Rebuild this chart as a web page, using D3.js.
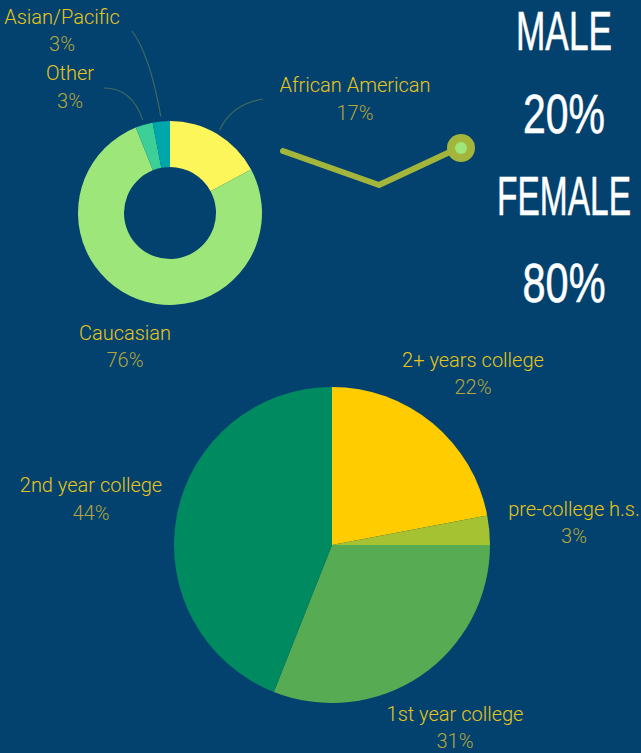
<!DOCTYPE html>
<html><head><meta charset="utf-8">
<script src="https://cdn.jsdelivr.net/npm/d3@7/dist/d3.min.js"></script>
<style>
html,body{margin:0;padding:0;background:#03426f;}
svg{display:block;}
</style></head>
<body>
<svg id="chart" width="641" height="753"></svg>
<script>
// ---- data ----
const ethnicityLabels = ["African American", "Caucasian", "Other", "Asian/Pacific"];
const ethnicityValues = [17, 76, 3, 3];
const ethnicityColors = ["#fdf65a", "#9de77a", "#3ccf98", "#00a7aa"];

const educationLabels = ["2+ years college", "pre-college h.s.", "1st year college", "2nd year college"];
const educationValues = [22, 3, 31, 44];
const educationColors = ["#ffcc00", "#a5c233", "#57ab52", "#008a60"];

const genderLabels = ["MALE", "FEMALE"];
const genderValues = [20, 80];

// ---- layout ----
const W = 641, H = 753;
const svg = d3.select("#chart");
svg.append("rect").attr("width", W).attr("height", H).attr("fill", "#03426f");

const nameColor = "#e8c619", pctColor = "#b5a63c", leaderColor = "#3f6b5e";
const labelFont = "Roboto, 'Liberation Sans', sans-serif";

function label(x, y, name, pct, dy) {
  const g = svg.append("g").attr("font-family", labelFont).attr("font-size", 20).attr("text-anchor", "middle");
  g.append("text").attr("x", x).attr("y", y).attr("fill", nameColor).attr("font-weight", 300).text(name);
  g.append("text").attr("x", x).attr("y", y + dy).attr("fill", pctColor).attr("font-weight", 300).text(pct + "%");
}

// ---- donut (ethnicity) ----
const dc = [170, 213], dR = 92, dr = 46;
const pieE = d3.pie().sort(null).value(d => d)(ethnicityValues);
const arcE = d3.arc().innerRadius(dr).outerRadius(dR);
const gD = svg.append("g").attr("transform", `translate(${dc[0]},${dc[1]})`);
gD.selectAll("path").data(pieE).join("path")
  .attr("d", arcE).attr("fill", (d, i) => ethnicityColors[i]);

const eLabelPos = [[355, 92, 28], [125, 340, 27], [70, 80, 28], [62, 24, 27]];
const eLeaderStart = [[263, 99], null, [104, 88], [132, 31]];
const eLeaderBend = [[232, 104], null, [132, 88], [150, 55]];
ethnicityLabels.forEach((n, i) => {
  label(eLabelPos[i][0], eLabelPos[i][1], n, ethnicityValues[i], eLabelPos[i][2]);
  if (eLeaderStart[i]) {
    const a = (pieE[i].startAngle + pieE[i].endAngle) / 2;
    const r = dR + 5;
    const ex = dc[0] + r * Math.sin(a), ey = dc[1] - r * Math.cos(a);
    const p = d3.path();
    p.moveTo(eLeaderStart[i][0], eLeaderStart[i][1]);
    p.quadraticCurveTo(eLeaderBend[i][0], eLeaderBend[i][1], ex, ey);
    svg.append("path").attr("d", p.toString()).attr("fill", "none")
      .attr("stroke", leaderColor).attr("stroke-width", 1.2);
  }
});

// ---- decoration ----
svg.append("polyline").attr("points", "283,151 379,185 452,151")
  .attr("fill", "none").attr("stroke", "#a3b53a").attr("stroke-width", 6)
  .attr("stroke-linecap", "round").attr("stroke-linejoin", "round");
svg.append("circle").attr("cx", 461).attr("cy", 148).attr("r", 14).attr("fill", "#a3b53a");
svg.append("circle").attr("cx", 461).attr("cy", 148).attr("r", 6).attr("fill", "#9de77a");

// ---- gender text (condensed by horizontal scaling) ----
const gFont = "'Liberation Sans Narrow', 'Liberation Sans', sans-serif";
const gY = [50, 133, 215, 302];
const gW = [96, 82, 134, 83];
const gTexts = [genderLabels[0], genderValues[0] + "%", genderLabels[1], genderValues[1] + "%"];
gTexts.forEach((t, i) => {
  const tx = svg.append("text").attr("x", 0).attr("y", 0)
    .attr("text-anchor", "middle").attr("font-family", gFont).attr("font-size", 55)
    .attr("font-weight", 400).attr("fill", "#ffffff")
    .attr("stroke", "#ffffff").attr("stroke-width", 0.6).attr("stroke-linejoin", "round")
    .text(t);
  const nat = tx.node().getComputedTextLength();
  tx.attr("transform", `translate(564,${gY[i]}) scale(${gW[i] / nat},1)`);
});

// ---- pie (education) ----
const pc = [332, 545], pR = 158;
const pieP = d3.pie().sort(null).value(d => d)(educationValues);
const arcP = d3.arc().innerRadius(0).outerRadius(pR);
const gP = svg.append("g").attr("transform", `translate(${pc[0]},${pc[1]})`);
gP.selectAll("path").data(pieP).join("path")
  .attr("d", arcP).attr("fill", (d, i) => educationColors[i]);

const pLabelPos = [[473, 367, 27], [574, 516, 27], [455, 721, 27], [91, 492, 28]];
educationLabels.forEach((n, i) => {
  label(pLabelPos[i][0], pLabelPos[i][1], n, educationValues[i], pLabelPos[i][2]);
});
</script>
</body></html>
